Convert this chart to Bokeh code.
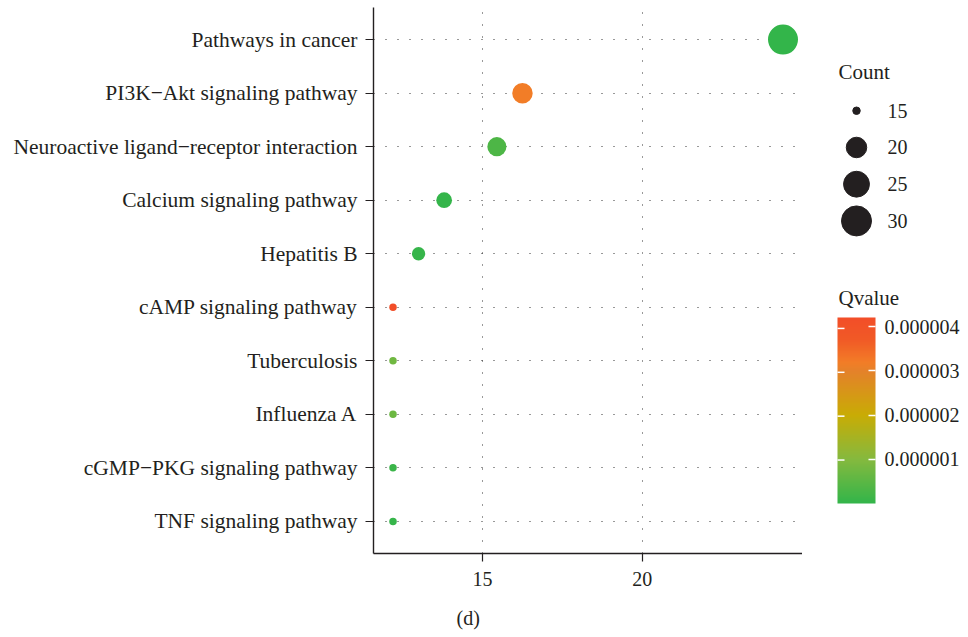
import numpy as np
from bokeh.plotting import figure
from bokeh.models import (FactorRange, Range1d, LinearColorMapper, ColorBar, FixedTicker,
                          PrintfTickFormatter, Title, ColumnDataSource)
from bokeh.layouts import row
from bokeh.core.properties import value
from bokeh.embed import file_html
from bokeh.resources import INLINE

# ---------------- data ----------------
pathways = [
    "Pathways in cancer",
    "PI3K\u2212Akt signaling pathway",
    "Neuroactive ligand\u2212receptor interaction",
    "Calcium signaling pathway",
    "Hepatitis B",
    "cAMP signaling pathway",
    "Tuberculosis",
    "Influenza A",
    "cGMP\u2212PKG signaling pathway",
    "TNF signaling pathway",
]
x_values = [24.4, 16.25, 15.45, 13.8, 13.0, 12.2, 12.2, 12.2, 12.2, 12.2]
counts = [30, 20, 19, 17, 16, 15, 15, 15, 15, 15]
qvalues = [1e-9, 3.2e-6, 3.2e-7, 2e-8, 5e-8, 4.21e-6, 7.5e-7, 7e-7, 1e-7, 5e-8]

x_ticks = [15, 20]
count_breaks = [15, 20, 25, 30]
q_ticks = [1e-6, 2e-6, 3e-6, 4e-6]

# ---------------- styling ----------------
FONT_NAME = "Liberation Serif"
FONT = value(FONT_NAME)
TXT = "#231f20"

anchor_pos = [0.0, 0.24, 0.475, 0.71, 0.76, 0.88, 1.0]
anchor_col = ["#33b54a", "#86b93e", "#c9ac05", "#e4822a", "#f27d27", "#f15a26", "#f24e28"]

def hex2rgb(h):
    h = h.lstrip("#")
    return [int(h[i:i + 2], 16) for i in (0, 2, 4)]

rgb = np.array([hex2rgb(c) for c in anchor_col], dtype=float)
t = np.linspace(0, 1, 256)
palette = []
for v in t:
    r, g, b = (np.interp(v, anchor_pos, rgb[:, k]) for k in range(3))
    palette.append("#%02x%02x%02x" % (int(round(r)), int(round(g)), int(round(b))))

cmin, cmax = min(counts), max(counts)
DMIN, DMAX = 7.5, 30.0

def diam(c):
    f = (c - cmin) / (cmax - cmin)
    return DMIN + (DMAX - DMIN) * np.sqrt(f)

q_lo, q_hi = min(qvalues), max(qvalues)
mapper = LinearColorMapper(palette=palette, low=q_lo, high=q_hi)

src = ColumnDataSource(dict(
    pathway=pathways, x=x_values, count=counts, q=qvalues,
    size=[diam(c) for c in counts],
))

span = max(x_values) - min(x_values)
x_lo = min(x_values) - 0.05 * span
x_hi = max(x_values) + 0.05 * span

H = 632
TOP, BOTTOM = 7, 75
MAIN_W, LEG_W = 802, 158

# ---------------- main plot ----------------
p = figure(
    width=MAIN_W, height=H,
    x_range=Range1d(x_lo, x_hi),
    y_range=FactorRange(factors=pathways[::-1], range_padding=0.1,
                        range_padding_units="absolute"),
    output_backend="svg", toolbar_location=None,
    min_border_left=373, min_border_right=0, min_border_top=TOP, min_border_bottom=BOTTOM,
)
p.outline_line_color = None
p.background_fill_color = "white"
p.border_fill_color = "white"

p.xaxis.ticker = FixedTicker(ticks=x_ticks)
for g in (p.xgrid, p.ygrid):
    g.grid_line_color = "#333333"
    g.grid_line_dash = "1 11"
    g.grid_line_width = 1

for ax in (p.xaxis, p.yaxis):
    ax.axis_line_color = TXT
    ax.axis_line_width = 1.4
    ax.major_tick_line_color = TXT
    ax.major_tick_line_width = 1.2
    ax.major_tick_out = 8
    ax.major_tick_in = 0
    ax.minor_tick_out = 0
    ax.minor_tick_in = 0
    ax.major_label_text_font = FONT_NAME
    ax.major_label_text_color = TXT
p.yaxis.major_label_text_font_size = "21.5px"
p.xaxis.major_label_text_font_size = "20px"
p.yaxis.major_label_standoff = 8
p.xaxis.major_label_standoff = 10

p.scatter(x="x", y="pathway", size="size", source=src,
          fill_color={"field": "q", "transform": mapper}, line_color=None)

# spacer title, then the panel caption
p.add_layout(Title(text=" ", standoff=0, text_font_size="9px",
                   text_font=FONT_NAME, text_font_style="normal"), "below")
p.add_layout(Title(text="(d)", align="left", offset=83, standoff=8,
                   text_font=FONT_NAME, text_font_size="20px", text_font_style="normal",
                   text_color=TXT), "below")

# ---------------- legend panel (data units = page pixels) ----------------
lg = figure(
    width=LEG_W, height=H,
    x_range=Range1d(MAIN_W, MAIN_W + LEG_W), y_range=Range1d(H - BOTTOM, TOP),
    output_backend="svg", toolbar_location=None,
    x_axis_location=None, y_axis_location=None,
    min_border_left=0, min_border_right=0, min_border_top=TOP, min_border_bottom=BOTTOM,
)
lg.grid.visible = False
lg.outline_line_color = None

leg_y = [111 + 37 * i for i in range(len(count_breaks))]
lg.text(x=[838], y=[72], text=["Count"], text_font=FONT, text_font_size="21px",
        text_color=TXT, text_baseline="middle", text_align="left")
lg.scatter(x=[856] * len(count_breaks), y=leg_y, size=[diam(c) for c in count_breaks],
           color=TXT)
lg.text(x=[887] * len(count_breaks), y=leg_y, text=[str(c) for c in count_breaks],
        text_font=FONT, text_font_size="20px", text_color=TXT,
        text_baseline="middle", text_align="left")

lg.text(x=[838], y=[300], text=["Qvalue"], text_font=FONT, text_font_size="21px",
        text_color=TXT, text_baseline="middle", text_align="left")

CB_X, CB_W, CB_H = 837, 38, 186
CB_BOTTOM = 507  # page y of bar bottom
cb = ColorBar(
    color_mapper=mapper,
    ticker=FixedTicker(ticks=q_ticks),
    formatter=PrintfTickFormatter(format="%.6f"),
    width=CB_W, height=CB_H, location=(CB_X - MAIN_W, (H - BOTTOM) - CB_BOTTOM), padding=0,
    major_label_text_font=FONT_NAME, major_label_text_font_size="20px",
    major_label_text_color=TXT,
    major_tick_line_color="white", major_tick_line_width=1.5,
    major_tick_in=7, major_tick_out=0, minor_tick_line_color=None,
    label_standoff=9,
    bar_line_color=None, border_line_color=None, background_fill_alpha=0,
)
lg.add_layout(cb)

# white tick marks on the left edge of the colour bar (as in ggplot's colourbar)
tick_y = [CB_BOTTOM - (q - q_lo) / (q_hi - q_lo) * CB_H for q in q_ticks]
lg.segment(x0=[CB_X] * len(q_ticks), x1=[CB_X + 7] * len(q_ticks), y0=tick_y, y1=tick_y,
           line_color="white", line_width=1.5, level="overlay")

layout = row(p, lg)
open("out.html", "w").write(file_html(layout, INLINE))
